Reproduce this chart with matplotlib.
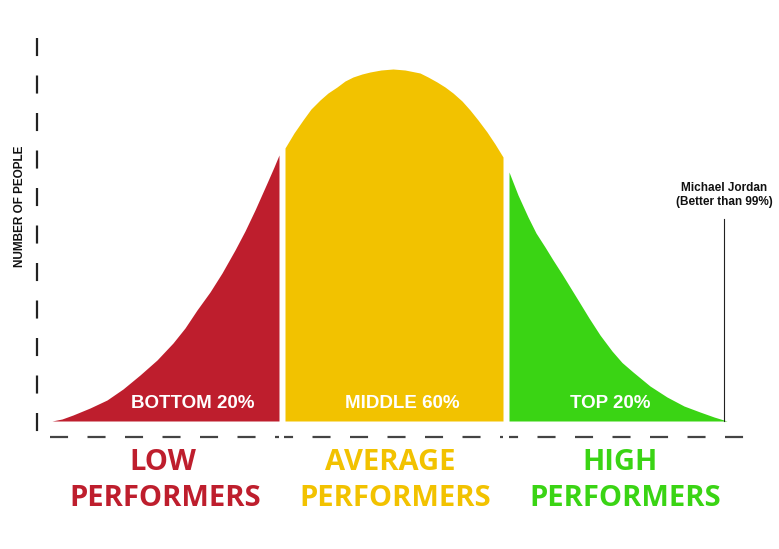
#!/usr/bin/env python3
# -*- coding: utf-8 -*-

#------------------------------------------------------------------------------
# PROGRAM: plot.py
#------------------------------------------------------------------------------
# Performance bell curve: low / average / high performers
#------------------------------------------------------------------------------

import numpy as np
import matplotlib.pyplot as plt

plt.rcParams['lines.scale_dashes'] = False

#------------------------------------------------------------------------------
# DATA: curve (x = performance, y = number of people)
#------------------------------------------------------------------------------

low_x = [52, 62, 73, 90, 107, 123, 140, 157, 173, 185, 197, 210, 222, 235, 245, 255, 267, 274, 279]
low_y = [0, 2, 6, 13, 21, 32, 46, 61, 78, 93, 111, 129, 148, 171, 190, 211, 238, 254, 266]

avg_x = [285, 294, 303, 311, 320, 328, 337, 345, 353, 362, 370, 381, 393, 405, 420, 428,
         437, 445, 453, 462, 470, 478, 487, 495, 503]
avg_y = [273, 288, 301, 312, 321, 328, 334, 340, 344, 347, 349, 351, 352, 351, 348, 344,
         339, 334, 328, 320, 311, 301, 289, 277, 264]

high_x = [509, 518, 528, 536, 545, 553, 562, 570, 578, 589, 600, 612, 622, 633, 650, 667,
          684, 700, 714, 727]
high_y = [249, 226, 204, 188, 174, 161, 147, 134, 121, 103, 86, 70, 58.5, 49, 35, 24,
          15, 9, 4, 0]

segment_labels = ['BOTTOM 20%', 'MIDDLE 60%', 'TOP 20%']
group_labels = [['LOW', 'PERFORMERS'], ['AVERAGE', 'PERFORMERS'], ['HIGH', 'PERFORMERS']]
jordan_x = 724
jordan_label = 'Michael Jordan\n(Better than 99%)'

#------------------------------------------------------------------------------
# SETTINGS
#------------------------------------------------------------------------------

col_low = '#BE1E2D'
col_avg = '#F2C200'
col_high = '#3AD414'
font_ui = 'Liberation Sans'
font_big = 'Open Sans'

#------------------------------------------------------------------------------
# PLOT
#------------------------------------------------------------------------------

fig = plt.figure(figsize=(7.79, 5.49), dpi=100)
ax = fig.add_axes([0, 0, 1, 1])
ax.set_xlim(0, 779)
ax.set_ylim(-128, 421)
ax.axis('off')

xs = [low_x, avg_x, high_x]
ys = [low_y, avg_y, high_y]
cols = [col_low, col_avg, col_high]

for i in range(3):
    ax.fill_between(xs[i], ys[i], 0, color=cols[i], lw=0, zorder=2)

# dashed axes
ax.plot([37, 37], [383, -11], color='#222222', lw=1.6, dashes=(13, 14), solid_capstyle='butt', zorder=3)
ax.plot([50, 745], [-16, -16], color='#444444', lw=1.6, dashes=(13, 14), solid_capstyle='butt', zorder=3)

# white separators cutting through the x axis
ax.fill_between([279.5, 284.5], -24, -8, color='white', lw=0, zorder=4)
ax.fill_between([503.5, 509], -24, -8, color='white', lw=0, zorder=4)

# in-curve labels
label_x = [193, 402, 610]
for i in range(3):
    ax.text(label_x[i], 18, segment_labels[i], color='white', fontsize=13.5,
            fontweight='bold', family=font_ui, ha='center', va='center', zorder=5)

# group labels below the axis
top_x = [163, 390, 620]
bot_x = [165, 395, 625]
for i in range(3):
    ax.text(top_x[i], -42, group_labels[i][0], color=cols[i], fontsize=21,
            fontweight='bold', family=font_big, ha='center', va='center')
    ax.text(bot_x[i], -78, group_labels[i][1], color=cols[i], fontsize=21,
            fontweight='bold', family=font_big, ha='center', va='center')

# Michael Jordan marker
ax.plot([jordan_x, jordan_x], [0, 202], color='#222222', lw=0.8, zorder=3)
ax.text(jordan_x, 226, jordan_label, color='#111111', fontsize=8.5, fontweight='bold',
        family=font_ui, ha='center', va='center', linespacing=1.2)

# y axis title
ax.text(20, 215, 'NUMBER OF PEOPLE', color='#111111', fontsize=8.5, fontweight='bold',
        family=font_ui, rotation=90, ha='center', va='center')

fig.savefig('out.png', dpi=100)

#------------------------------------------------------------------------------
print('** END')
